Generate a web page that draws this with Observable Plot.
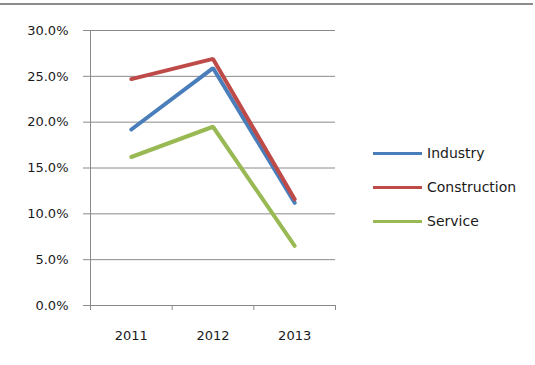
<!DOCTYPE html>
<html>
<head>
<meta charset="utf-8">
<script src="https://cdn.jsdelivr.net/npm/d3@7"></script>
<script src="https://cdn.jsdelivr.net/npm/@observablehq/plot@0.6"></script>
<style>
  html, body { margin: 0; padding: 0; background: #fff; }
  #wrap { position: relative; width: 535px; height: 365px; font-family: "DejaVu Sans", sans-serif; }
  #topline { position: absolute; left: 0; top: 3px; width: 533px; height: 0; border-top: 2px solid #8c8c8c; }
  #legend { position: absolute; left: 373px; top: 143px; font-size: 14px; color: #1a1a1a; }
  .row { display: flex; align-items: center; height: 20px; margin-bottom: 14px; }
  .swatch { width: 49px; height: 3px; margin-right: 5px; }
</style>
</head>
<body>
<div id="wrap">
  <div id="chart"></div>
  <div id="topline"></div>
  <div id="legend"></div>
</div>
<script>
const years = [2011, 2012, 2013];
const industry = [0.192, 0.259, 0.112];
const construction = [0.247, 0.269, 0.116];
const service = [0.162, 0.195, 0.065];
const seriesNames = ["Industry", "Construction", "Service"];
const seriesColors = ["#4A7EBB", "#BE4B48", "#98B954"];
const yTicks = [0, 0.05, 0.10, 0.15, 0.20, 0.25, 0.30];

const seriesValues = [industry, construction, service];
const data = [];
seriesNames.forEach((s, i) => years.forEach((y, j) => data.push({series: s, year: y, value: seriesValues[i][j]})));

const boundaries = [years[0] - 0.5, ...years.map(y => y + 0.5)];
const tickLen = 5 / 275 * 0.3;
const fmt = d3.format(".1%");

const chart = Plot.plot({
  width: 535,
  height: 365,
  marginLeft: 90,
  marginRight: 200,
  marginTop: 30,
  marginBottom: 60,
  x: {type: "linear", domain: [boundaries[0], boundaries[boundaries.length - 1]], axis: null},
  y: {domain: [0, 0.3], axis: null},
  color: {domain: seriesNames, range: seriesColors},
  style: {fontFamily: "DejaVu Sans", fontSize: "13px", background: "transparent"},
  marks: [
    Plot.ruleY(yTicks, {y: d => d, stroke: "#8a8a8a", strokeOpacity: 1, insetLeft: -7}),
    Plot.ruleX([boundaries[0]], {y1: -tickLen, y2: 0.3, stroke: "#8a8a8a", strokeOpacity: 1}),
    Plot.ruleX(boundaries.slice(1), {y1: -tickLen, y2: 0, stroke: "#8a8a8a", strokeOpacity: 1}),
    Plot.text(yTicks, {x: boundaries[0], y: d => d, text: d => fmt(d), textAnchor: "end", dx: -22, fill: "#1a1a1a"}),
    Plot.text(years, {x: d => d, y: 0, dy: 30, text: d => String(d), fill: "#1a1a1a"}),
    Plot.line(data, {x: "year", y: "value", z: "series", stroke: "series", strokeWidth: 4, strokeLinecap: "round", strokeLinejoin: "miter"})
  ]
});
document.getElementById("chart").appendChild(chart);

const legend = document.getElementById("legend");
seriesNames.forEach((s, i) => {
  const row = document.createElement("div");
  row.className = "row";
  const sw = document.createElement("div");
  sw.className = "swatch";
  sw.style.background = seriesColors[i];
  const lab = document.createElement("span");
  lab.textContent = s;
  row.appendChild(sw);
  row.appendChild(lab);
  legend.appendChild(row);
});
</script>
</body>
</html>
